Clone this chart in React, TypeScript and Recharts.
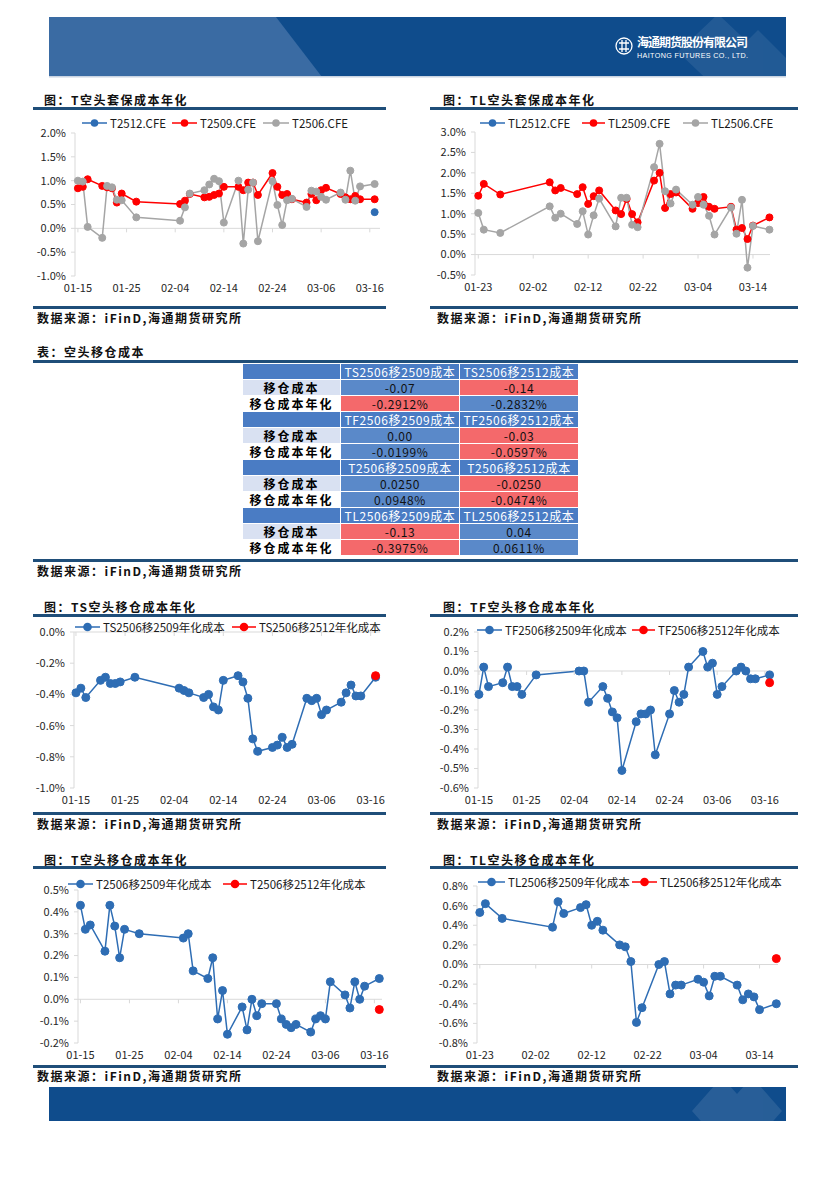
import React from "react";
import { LineChart, Line, XAxis, YAxis, ReferenceLine, ReferenceDot } from "recharts";

const FONT = '"Noto Sans CJK SC", "Noto Sans", sans-serif';
const BLUE = "#2E6DB4";
const RED = "#FF0000";
const GRAY = "#A5A5A5";
const NAVY = "#1F4E79";
const AXIS = "#D9D9D9";

// trading days shown in the T / TS / TF charts
const T_DATES = [
  "01-15", "01-16", "01-17", "01-20", "01-21", "01-22", "01-23", "01-24", "01-27",
  "02-05", "02-06", "02-07", "02-10", "02-11", "02-12", "02-13", "02-14", "02-17", "02-18",
  "02-19", "02-20", "02-21", "02-24", "02-25", "02-26", "02-27", "02-28",
  "03-03", "03-04", "03-05", "03-06", "03-07", "03-10", "03-11", "03-12", "03-13", "03-14", "03-17",
];
// trading days shown in the TL charts
const TL_DATES = [
  "01-23", "01-24", "01-27",
  "02-05", "02-06", "02-07", "02-10", "02-11", "02-12", "02-13", "02-14", "02-17", "02-18",
  "02-19", "02-20", "02-21", "02-24", "02-25", "02-26", "02-27", "02-28",
  "03-03", "03-04", "03-05", "03-06", "03-07", "03-10", "03-11", "03-12", "03-13", "03-14", "03-17",
];
const T_TICKS = ["01-15", "01-25", "02-04", "02-14", "02-24", "03-06", "03-16"];
const TL_TICKS = ["01-23", "02-02", "02-12", "02-22", "03-04", "03-14"];

// 图：T空头套保成本年化 (%)
const T2512 = [null, null, null, null, null, null, null, null, null, null, null, null, null, null, null, null, null, null, null, null, null, null, null, null, null, null, null, null, null, null, null, null, null, null, null, null, null, 0.34];
const T2509 = [0.84, 0.87, 1.03, 0.89, 0.86, 0.84, 0.54, 0.73, 0.56, 0.51, 0.58, 0.72, 0.65, 0.66, 0.7, 0.73, 0.87, 0.87, 0.8, 0.96, 0.96, 0.7, 1.16, 0.87, 0.7, 0.72, 0.61, 0.54, 0.72, 0.59, 0.8, 0.85, 0.72, 0.65, 0.61, 0.68, 0.61, 0.61];
const T2506 = [1.0, 0.98, 0.03, -0.2, 0.89, 0.86, 0.6, 0.59, 0.23, 0.16, 0.44, 0.73, 0.8, 0.92, 1.04, 0.99, 0.12, 1.0, -0.32, 0.81, 0.96, -0.27, 0.99, 0.49, 0.07, 0.59, 0.62, 0.45, 0.79, 0.77, 0.66, 0.6, 0.75, 0.6, 1.21, 0.58, 0.88, 0.93];

// 图：TL空头套保成本年化 (%)
const TL2512: (number | null)[] = [];
const TL2509 = [1.44, 1.73, 1.47, 1.77, 1.57, 1.63, 1.48, 1.65, 1.24, 1.43, 1.57, 1.08, 0.99, 1.36, 0.99, 0.79, 1.81, 2.0, 1.14, 1.48, 1.52, 1.12, 1.26, 1.41, 1.17, 1.12, 1.17, 0.61, 0.65, 0.38, 0.71, 0.91];
const TL2506 = [1.02, 0.61, 0.53, 1.18, 0.9, 1.0, 0.75, 1.06, 0.49, 0.96, 1.37, 0.69, 1.39, 1.39, 0.73, 0.67, 2.14, 2.71, 1.55, 1.25, 1.59, 1.22, 1.41, 1.22, 0.95, 0.49, 1.15, 0.51, 1.34, -0.32, 0.7, 0.61];

// 空头移仓年化成本 (%)
const TS_ROLL_2509 = [-0.39, -0.36, -0.42, -0.31, -0.29, -0.33, -0.33, -0.32, -0.29, -0.36, -0.375, -0.39, -0.42, -0.4, -0.48, -0.5, -0.31, -0.28, -0.32, -0.425, -0.685, -0.765, -0.74, -0.725, -0.675, -0.74, -0.72, -0.425, -0.44, -0.425, -0.53, -0.5, -0.45, -0.39, -0.34, -0.41, -0.41, -0.29];
const TS_ROLL_2512 = [null, null, null, null, null, null, null, null, null, null, null, null, null, null, null, null, null, null, null, null, null, null, null, null, null, null, null, null, null, null, null, null, null, null, null, null, null, -0.28];
const TF_ROLL_2509 = [-0.12, 0.02, -0.08, -0.06, 0.02, -0.08, -0.08, -0.12, -0.02, 0.0, 0.0, -0.16, -0.08, -0.14, -0.21, -0.24, -0.51, -0.26, -0.22, -0.22, -0.2, -0.43, -0.22, -0.1, -0.16, -0.12, 0.02, 0.1, 0.02, 0.04, -0.12, -0.08, 0.0, 0.02, 0.0, -0.04, -0.04, -0.02];
const TF_ROLL_2512 = [null, null, null, null, null, null, null, null, null, null, null, null, null, null, null, null, null, null, null, null, null, null, null, null, null, null, null, null, null, null, null, null, null, null, null, null, null, -0.06];
const T_ROLL_2509 = [0.43, 0.32, 0.34, 0.22, 0.43, 0.335, 0.19, 0.32, 0.3, 0.28, 0.3, 0.13, 0.095, 0.19, -0.09, 0.04, -0.16, -0.035, -0.14, 0.0, -0.075, -0.02, -0.02, -0.09, -0.115, -0.13, -0.115, -0.15, -0.09, -0.075, -0.09, 0.08, 0.02, -0.04, 0.08, 0.0, 0.06, 0.095];
const T_ROLL_2512 = [null, null, null, null, null, null, null, null, null, null, null, null, null, null, null, null, null, null, null, null, null, null, null, null, null, null, null, null, null, null, null, null, null, null, null, null, null, -0.047];
const TL_ROLL_2509 = [0.53, 0.62, 0.47, 0.38, 0.64, 0.52, 0.58, 0.61, 0.4, 0.44, 0.35, 0.2, 0.18, 0.03, -0.59, -0.44, 0.0, 0.03, -0.3, -0.21, -0.21, -0.15, -0.18, -0.32, -0.12, -0.12, -0.21, -0.36, -0.3, -0.33, -0.46, -0.4];
const TL_ROLL_2512 = [null, null, null, null, null, null, null, null, null, null, null, null, null, null, null, null, null, null, null, null, null, null, null, null, null, null, null, null, null, null, null, 0.06];

// 表：空头移仓成本
const TABLE_PAIRS = [
  ["TS2506移2509成本", "TS2506移2512成本"],
  ["TF2506移2509成本", "TF2506移2512成本"],
  ["T2506移2509成本", "T2506移2512成本"],
  ["TL2506移2509成本", "TL2506移2512成本"],
];
const ROLL_COST = [["-0.07", "-0.14"], ["0.00", "-0.03"], ["0.0250", "-0.0250"], ["-0.13", "0.04"]];
const ROLL_COST_ANNUAL = [["-0.2912%", "-0.2832%"], ["-0.0199%", "-0.0597%"], ["0.0948%", "-0.0474%"], ["-0.3975%", "0.0611%"]];

const MONTH_START: Record<string, number> = { "01": 0, "02": 31, "03": 59 };
const toDay = (s: string) => MONTH_START[s.slice(0, 2)] + Number(s.slice(3));
const fromDay = (d: number) => {
  const m = d > 59 ? "03" : d > 31 ? "02" : "01";
  return `${m}-${String(Math.round(d - MONTH_START[m])).padStart(2, "0")}`;
};
const pct = (v: number) => `${v.toFixed(1)}%`;

function buildRows(dates: string[], cols: Record<string, (number | null)[]>) {
  return dates.map((d, i) => {
    const row: Record<string, number | null> = { day: toDay(d) };
    Object.keys(cols).forEach((k) => {
      const v = cols[k][i];
      row[k] = v === undefined ? null : v;
    });
    return row;
  });
}

type Series = { key: string; name: string; color: string; r: number };
type Plot = { left: number; right: number; top: number; bottom: number };

const tickStyle = { fontSize: 11, fill: "#262626", fontFamily: FONT };

function TrendChart({ rows, series, plot, xDomain, xTicks, yDomain, yTicks }: {
  rows: Record<string, number | null>[]; series: Series[]; plot: Plot;
  xDomain: [number, number]; xTicks: number[]; yDomain: [number, number]; yTicks: number[];
}) {
  const YW = 46, MT = 10, XH = 22, MB = 3, MR = 18;
  const width = plot.right - plot.left + YW + MR;
  const height = plot.bottom - plot.top + MT + XH + MB;
  return (
    <div style={{ position: "absolute", left: plot.left - YW, top: plot.top - MT, width, height }}>
      <LineChart width={width} height={height} data={rows} margin={{ top: MT, right: MR, bottom: MB, left: 0 }}>
        <XAxis type="number" dataKey="day" domain={xDomain} ticks={xTicks} interval={0} tickFormatter={fromDay}
          axisLine={false} tickLine={false} tickSize={0} tickMargin={8} height={XH} tick={tickStyle} />
        <YAxis type="number" domain={yDomain} ticks={yTicks} interval={0} tickFormatter={pct} width={YW}
          axisLine={{ stroke: AXIS }} tickLine={{ stroke: AXIS }} tickSize={4} tickMargin={5} tick={tickStyle} />
        <ReferenceLine y={0} stroke={AXIS} strokeWidth={1} />
        {xTicks.map((t) => (
          <ReferenceDot key={t} x={t} y={0} r={0}
            shape={(p: any) => <line x1={p.cx} x2={p.cx} y1={p.cy} y2={p.cy + 4} stroke={AXIS} />} />
        ))}
        {series.map((s) => (
          <Line key={s.key} type="linear" dataKey={s.key} name={s.name} stroke={s.color} strokeWidth={1.5}
            dot={{ r: s.r, fill: s.color, stroke: s.color, strokeWidth: 1 }} activeDot={false}
            isAnimationActive={false} connectNulls={false} />
        ))}
      </LineChart>
    </div>
  );
}

function LegendRow({ y, items }: { y: number; items: { x: number; tx: number; s: Series }[] }) {
  return (
    <>
      {items.map(({ x, tx, s }) => (
        <div key={s.key} style={{ position: "absolute", left: x, top: y - 8, height: 16, display: "flex", alignItems: "center" }}>
          <svg width={tx - x} height={12} style={{ display: "block" }}>
            <line x1={0} x2={tx - x - 3} y1={6} y2={6} stroke={s.color} strokeWidth={1.5} />
            <circle cx={(tx - x - 3) / 2} cy={6} r={s.r + 0.3} fill={s.color} />
          </svg>
          <span style={{ fontFamily: FONT, fontSize: 11.5, color: "#1a1a1a", whiteSpace: "nowrap", lineHeight: "16px" }}>{s.name}</span>
        </div>
      ))}
    </>
  );
}

function Caption({ x, y, text }: { x: number; y: number; text: string }) {
  return (
    <div style={{ position: "absolute", left: x, top: y - 9, height: 18, lineHeight: "18px", fontFamily: FONT, fontSize: 12,
      fontWeight: 700, letterSpacing: 1.5, color: "#111", whiteSpace: "nowrap" }}>{text}</div>
  );
}

function Rule({ x, y, w }: { x: number; y: number; w: number }) {
  return <div style={{ position: "absolute", left: x, top: y, width: w, height: 3, background: NAVY }} />;
}

function Header() {
  return (
    <svg width={835} height={90} style={{ position: "absolute", left: 0, top: 0 }}>
      <defs>
        <clipPath id="hb"><rect x={49} y={17} width={737} height={60} /></clipPath>
      </defs>
      <rect x={49} y={17} width={737} height={60} fill="#0F4C8C" />
      <polygon points="49,17 276,17 322,77 49,77" fill="#3A6BA3" />
      <g clipPath="url(#hb)" fill="#FFFFFF" opacity={0.08}>
        <polygon points="718,14 758,52 718,90 678,52" />
        <polygon points="758,30 796,68 758,106 720,68" />
      </g>
      <rect x={49} y={76} width={737} height={1.5} fill="#C9D4E2" />
      <g transform="translate(624,46)" stroke="#FFFFFF" fill="none" strokeWidth={1.3}>
        <circle r={8} />
        <path d="M-5,-3 H5 M-5,3 H5 M-2,-6 V6 M2,-6 V6" />
      </g>
      <text x={637} y={47} fill="#FFFFFF" fontFamily={FONT} fontSize={12} fontWeight={700} textLength={111}>海通期货股份有限公司</text>
      <text x={637} y={57.5} fill="#FFFFFF" fontFamily='"Liberation Sans", Arial, sans-serif' fontSize={7.2} textLength={111}>HAITONG FUTURES CO., LTD.</text>
    </svg>
  );
}

function Footer() {
  return (
    <svg width={835} height={40} style={{ position: "absolute", left: 0, top: 1085 }}>
      <defs>
        <clipPath id="fb"><rect x={49} y={2} width={737} height={34} /></clipPath>
      </defs>
      <rect x={49} y={2} width={737} height={34} fill="#0F4C8C" />
      <g clipPath="url(#fb)" fill="#FFFFFF" opacity={0.1}>
        <polygon points="722,-8 752,26 722,60 692,26" />
        <polygon points="752,-8 782,26 752,60 722,26" />
      </g>
    </svg>
  );
}

function RollTable() {
  const cell: React.CSSProperties = { height: 15, padding: 0, border: "1px solid #FFFFFF", textAlign: "center",
    fontFamily: FONT, fontSize: 12, letterSpacing: 0.6, lineHeight: "15px", whiteSpace: "nowrap" };
  const isMin = (pair: string[], j: number) => parseFloat(pair[j]) < parseFloat(pair[1 - j]);
  return (
    <table style={{ position: "absolute", left: 242, top: 363, borderCollapse: "collapse", tableLayout: "fixed", width: 336 }}>
      <colgroup><col style={{ width: 98 }} /><col style={{ width: 119 }} /><col style={{ width: 119 }} /></colgroup>
      <tbody>
        {TABLE_PAIRS.map((pair, i) => (
          <React.Fragment key={i}>
            <tr>
              <td style={{ ...cell, background: "#4A7CC4" }} />
              {pair.map((h) => <td key={h} style={{ ...cell, background: "#4A7CC4", color: "#FFFFFF" }}>{h}</td>)}
            </tr>
            <tr>
              <td style={{ ...cell, background: "#D9E1F2", fontWeight: 700, letterSpacing: 2 }}>移仓成本</td>
              {ROLL_COST[i].map((v, j) => (
                <td key={j} style={{ ...cell, background: isMin(ROLL_COST[i], j) ? "#F4696B" : "#5A89C9", color: "#111" }}>{v}</td>
              ))}
            </tr>
            <tr>
              <td style={{ ...cell, background: "#FFFFFF", fontWeight: 700, letterSpacing: 2 }}>移仓成本年化</td>
              {ROLL_COST_ANNUAL[i].map((v, j) => (
                <td key={j} style={{ ...cell, background: isMin(ROLL_COST_ANNUAL[i], j) ? "#F4696B" : "#5A89C9", color: "#111" }}>{v}</td>
              ))}
            </tr>
          </React.Fragment>
        ))}
      </tbody>
    </table>
  );
}

const SOURCE = "数据来源：iFinD,海通期货研究所";

export default function App() {
  const tTicks = T_TICKS.map(toDay);
  const tlTicks = TL_TICKS.map(toDay);

  const s1: Series[] = [
    { key: "t2512", name: "T2512.CFE", color: BLUE, r: 3.5 },
    { key: "t2509", name: "T2509.CFE", color: RED, r: 3.5 },
    { key: "t2506", name: "T2506.CFE", color: GRAY, r: 3.5 },
  ];
  const s2: Series[] = [
    { key: "tl2512", name: "TL2512.CFE", color: BLUE, r: 3.5 },
    { key: "tl2509", name: "TL2509.CFE", color: RED, r: 3.5 },
    { key: "tl2506", name: "TL2506.CFE", color: GRAY, r: 3.5 },
  ];
  const s3: Series[] = [
    { key: "a", name: "TS2506移2509年化成本", color: BLUE, r: 4 },
    { key: "b", name: "TS2506移2512年化成本", color: RED, r: 4 },
  ];
  const s4: Series[] = [
    { key: "a", name: "TF2506移2509年化成本", color: BLUE, r: 4 },
    { key: "b", name: "TF2506移2512年化成本", color: RED, r: 4 },
  ];
  const s5: Series[] = [
    { key: "a", name: "T2506移2509年化成本", color: BLUE, r: 4 },
    { key: "b", name: "T2506移2512年化成本", color: RED, r: 4 },
  ];
  const s6: Series[] = [
    { key: "a", name: "TL2506移2509年化成本", color: BLUE, r: 4 },
    { key: "b", name: "TL2506移2512年化成本", color: RED, r: 4 },
  ];

  return (
    <div style={{ position: "absolute", left: 0, top: 0, width: 835, height: 1181, background: "#FFFFFF", overflow: "hidden" }}>
      <Header />

      {/* row 1 */}
      <Caption x={44} y={100} text="图：T空头套保成本年化" />
      <Rule x={33} y={107} w={353} />
      <LegendRow y={123} items={[{ x: 82, tx: 110, s: s1[0] }, { x: 172, tx: 200, s: s1[1] }, { x: 263, tx: 292, s: s1[2] }]} />
      <TrendChart rows={buildRows(T_DATES, { t2512: T2512, t2509: T2509, t2506: T2506 })} series={s1}
        plot={{ left: 75, right: 380, top: 133, bottom: 276 }} xDomain={[14.4, 77.1]} xTicks={tTicks}
        yDomain={[-1, 2]} yTicks={[-1, -0.5, 0, 0.5, 1, 1.5, 2]} />
      <Rule x={33} y={306} w={353} />
      <Caption x={37} y={318} text={SOURCE} />

      <Caption x={443} y={100} text="图：TL空头套保成本年化" />
      <Rule x={430} y={107} w={368} />
      <LegendRow y={123} items={[{ x: 480, tx: 508, s: s2[0] }, { x: 582, tx: 608, s: s2[1] }, { x: 683, tx: 711, s: s2[2] }]} />
      <TrendChart rows={buildRows(TL_DATES, { tl2512: TL2512, tl2509: TL2509, tl2506: TL2506 })} series={s2}
        plot={{ left: 475, right: 770, top: 132, bottom: 275 }} xDomain={[22.4, 76.1]} xTicks={tlTicks}
        yDomain={[-0.5, 3]} yTicks={[-0.5, 0, 0.5, 1, 1.5, 2, 2.5, 3]} />
      <Rule x={430} y={306} w={368} />
      <Caption x={437} y={318} text={SOURCE} />

      {/* table */}
      <Caption x={37} y={352} text="表：空头移仓成本" />
      <Rule x={33} y={360} w={765} />
      <RollTable />
      <Rule x={33} y={559} w={765} />
      <Caption x={37} y={571} text={SOURCE} />

      {/* row 2 */}
      <Caption x={44} y={607} text="图：TS空头移仓成本年化" />
      <Rule x={33} y={614} w={353} />
      <TrendChart rows={buildRows(T_DATES, { a: TS_ROLL_2509, b: TS_ROLL_2512 })} series={s3}
        plot={{ left: 74, right: 380, top: 632, bottom: 788 }} xDomain={[14.6, 76.9]} xTicks={tTicks}
        yDomain={[-1, 0]} yTicks={[-1, -0.8, -0.6, -0.4, -0.2, 0]} />
      <LegendRow y={627} items={[{ x: 75, tx: 103, s: s3[0] }, { x: 232, tx: 259, s: s3[1] }]} />
      <Rule x={33} y={812} w={353} />
      <Caption x={37} y={824} text={SOURCE} />

      <Caption x={443} y={607} text="图：TF空头移仓成本年化" />
      <Rule x={430} y={614} w={368} />
      <TrendChart rows={buildRows(T_DATES, { a: TF_ROLL_2509, b: TF_ROLL_2512 })} series={s4}
        plot={{ left: 478, right: 772, top: 632, bottom: 788 }} xDomain={[14.8, 76.5]} xTicks={tTicks}
        yDomain={[-0.6, 0.2]} yTicks={[-0.6, -0.5, -0.4, -0.3, -0.2, -0.1, 0, 0.1, 0.2]} />
      <LegendRow y={630} items={[{ x: 477, tx: 505, s: s4[0] }, { x: 632, tx: 658, s: s4[1] }]} />
      <Rule x={430} y={812} w={368} />
      <Caption x={437} y={824} text={SOURCE} />

      {/* row 3 */}
      <Caption x={44} y={860} text="图：T空头移仓成本年化" />
      <Rule x={33} y={866} w={353} />
      <TrendChart rows={buildRows(T_DATES, { a: T_ROLL_2509, b: T_ROLL_2512 })} series={s5}
        plot={{ left: 78, right: 382, top: 890, bottom: 1043 }} xDomain={[14.5, 76.55]} xTicks={tTicks}
        yDomain={[-0.2, 0.5]} yTicks={[-0.2, -0.1, 0, 0.1, 0.2, 0.3, 0.4, 0.5]} />
      <LegendRow y={884} items={[{ x: 68, tx: 96, s: s5[0] }, { x: 223, tx: 250, s: s5[1] }]} />
      <Rule x={33} y={1065} w={353} />
      <Caption x={37} y={1076} text={SOURCE} />

      <Caption x={443} y={860} text="图：TL空头移仓成本年化" />
      <Rule x={430} y={866} w={368} />
      <TrendChart rows={buildRows(TL_DATES, { a: TL_ROLL_2509, b: TL_ROLL_2512 })} series={s6}
        plot={{ left: 477, right: 778, top: 886, bottom: 1043 }} xDomain={[22.5, 76.3]} xTicks={tlTicks}
        yDomain={[-0.8, 0.8]} yTicks={[-0.8, -0.6, -0.4, -0.2, 0, 0.2, 0.4, 0.6, 0.8]} />
      <LegendRow y={882} items={[{ x: 478, tx: 508, s: s6[0] }, { x: 632, tx: 660, s: s6[1] }]} />
      <Rule x={430} y={1065} w={368} />
      <Caption x={437} y={1076} text={SOURCE} />

      <Footer />
    </div>
  );
}
